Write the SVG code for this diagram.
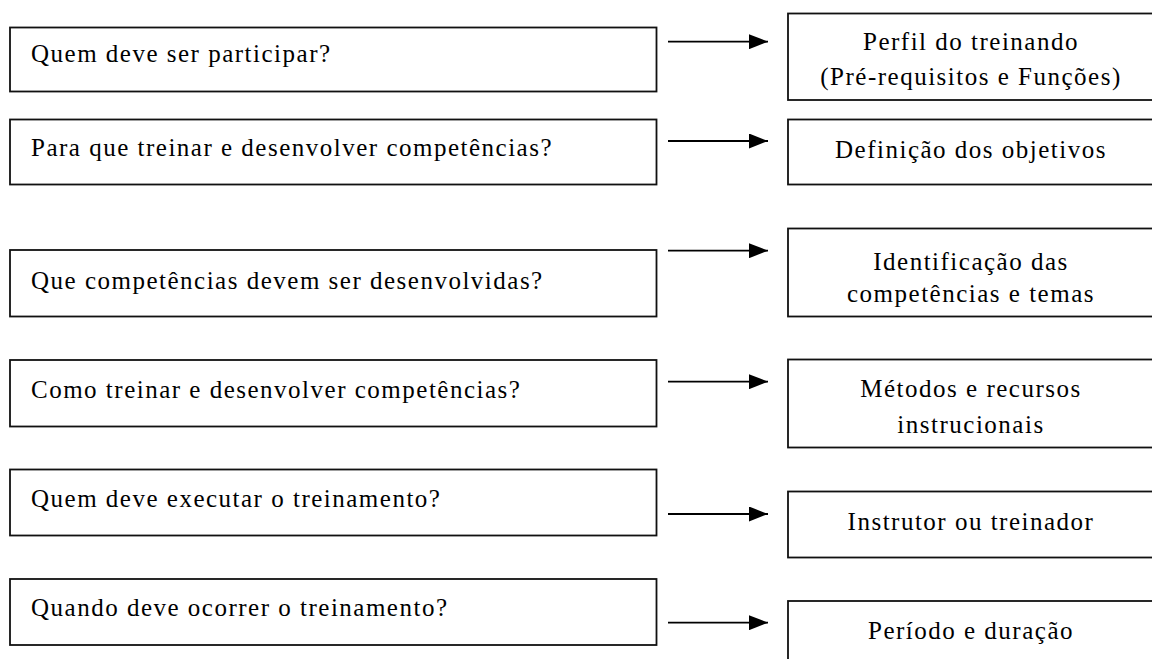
<svg xmlns="http://www.w3.org/2000/svg" width="1152" height="659" viewBox="0 0 1152 659">
<style>
.box{fill:#fff;stroke:#111;stroke-width:1.8}
.t{font-family:"Liberation Serif","Times New Roman",serif;font-size:25px;letter-spacing:1.5px;fill:#000}
.c{text-anchor:middle}
.ln{stroke:#000;stroke-width:1.8;fill:none}
</style>
<defs>
<marker id="ah" markerWidth="19" markerHeight="15" refX="19" refY="7.5" orient="auto" markerUnits="userSpaceOnUse">
<path d="M0,0 L19,7.5 L0,15 Z" fill="#000"/>
</marker>
</defs>
<rect width="1152" height="659" fill="#fff"/>
<g id="q1"><rect class="box" x="10" y="27.5" width="646.5" height="64"/><text class="t" x="31" y="62">Quem deve ser participar?</text></g>
<g id="q2"><rect class="box" x="10" y="119.5" width="646.5" height="65"/><text class="t" x="31" y="156">Para que treinar e desenvolver competências?</text></g>
<g id="q3"><rect class="box" x="10" y="250" width="646.5" height="66.5"/><text class="t" x="31" y="289">Que competências devem ser desenvolvidas?</text></g>
<g id="q4"><rect class="box" x="10" y="360" width="646.5" height="66.5"/><text class="t" x="31" y="398">Como treinar e desenvolver competências?</text></g>
<g id="q5"><rect class="box" x="10" y="469.5" width="646.5" height="66"/><text class="t" x="31" y="507">Quem deve executar o treinamento?</text></g>
<g id="q6"><rect class="box" x="10" y="579" width="646.5" height="66"/><text class="t" x="31" y="616">Quando deve ocorrer o treinamento?</text></g>
<g id="a1"><rect class="box" x="788" y="13.5" width="370" height="86.5"/><text class="t c" x="971" y="50">Perfil do treinando</text><text class="t c" x="971" y="85">(Pré-requisitos e Funções)</text></g>
<g id="a2"><rect class="box" x="788" y="119.5" width="370" height="65"/><text class="t c" x="971" y="158">Definição dos objetivos</text></g>
<g id="a3"><rect class="box" x="788" y="228.5" width="370" height="88"/><text class="t c" x="971" y="270">Identificação das</text><text class="t c" x="971" y="302">competências e temas</text></g>
<g id="a4"><rect class="box" x="788" y="359.5" width="370" height="88"/><text class="t c" x="971" y="397">Métodos e recursos</text><text class="t c" x="971" y="433">instrucionais</text></g>
<g id="a5"><rect class="box" x="788" y="491.5" width="370" height="66"/><text class="t c" x="971" y="530">Instrutor ou treinador</text></g>
<g id="a6"><rect class="box" x="788" y="601" width="370" height="80"/><text class="t c" x="971" y="639">Período e duração</text></g>
<g id="connectors">
<line class="ln" x1="668" y1="41.7" x2="768" y2="41.7" marker-end="url(#ah)"/>
<line class="ln" x1="668" y1="141" x2="768" y2="141" marker-end="url(#ah)"/>
<line class="ln" x1="668" y1="250.7" x2="768" y2="250.7" marker-end="url(#ah)"/>
<line class="ln" x1="668" y1="381.7" x2="768" y2="381.7" marker-end="url(#ah)"/>
<line class="ln" x1="668" y1="514" x2="768" y2="514" marker-end="url(#ah)"/>
<line class="ln" x1="668" y1="622.7" x2="768" y2="622.7" marker-end="url(#ah)"/>
</g>
</svg>
